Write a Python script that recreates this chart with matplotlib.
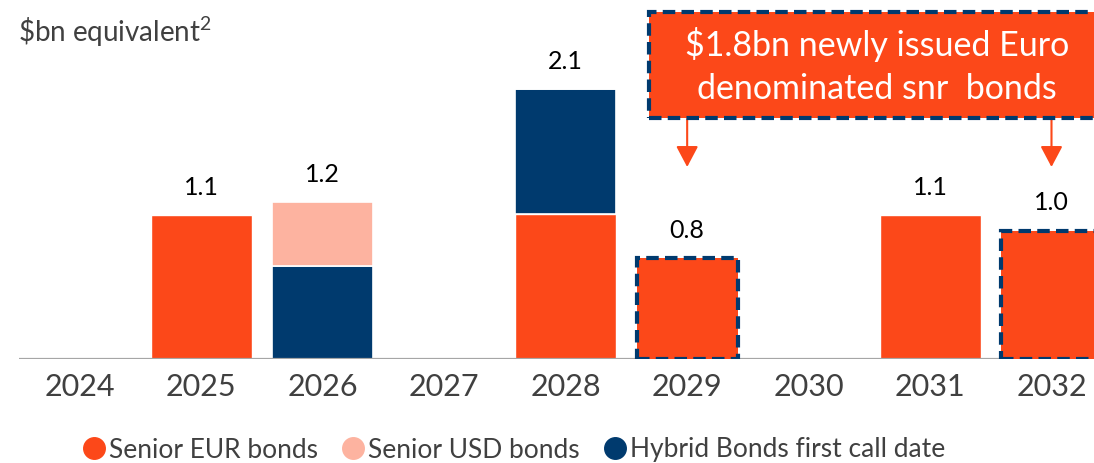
import matplotlib
matplotlib.use("Agg")
import matplotlib.pyplot as plt
from matplotlib.lines import Line2D
from matplotlib.patches import Rectangle
import numpy as np

plt.rcParams['font.family'] = ['Lato', 'DejaVu Sans']
plt.rcParams['mathtext.fontset'] = 'custom'
plt.rcParams['mathtext.rm'] = 'Lato'
plt.rcParams['mathtext.it'] = 'Lato'
plt.rcParams['mathtext.default'] = 'rm'

years = ['2024', '2025', '2026', '2027', '2028', '2029', '2030', '2031', '2032']
senior_eur = [0, 1.10, 0, 0, 1.11, 0.77, 0, 1.10, 0.98]
hybrid = [0, 0, 0.71, 0, 0.95, 0, 0, 0, 0]
senior_usd = [0, 0, 0.49, 0, 0, 0, 0, 0, 0]
total_labels = ['', '1.1', '1.2', '', '2.1', '0.8', '', '1.1', '1.0']
new_issue = [False, False, False, False, False, True, False, False, True]
series_names = ['Senior EUR bonds', 'Senior USD bonds', 'Hybrid Bonds first call date']
callout_text = "\\$1.8bn newly issued Euro\ndenominated snr  bonds"
unit_title = "\\$bn equivalent$^{2}$"

ORANGE = '#FC4819'
NAVY = '#003A6E'
PINK = '#FDB3A0'
GREY_TXT = '#404040'

W, H = 1094, 463
fig = plt.figure(figsize=(W / 100, H / 100), dpi=100)
ax = fig.add_axes([19 / W, (H - 359) / H, (W - 19) / W, 359 / H])

x = np.arange(len(years))
bw = 0.832
eur = np.array(senior_eur)
hyb = np.array(hybrid)
usd = np.array(senior_usd)

DASH = (0, (3.0, 1.5))
for i in range(len(years)):
    if eur[i] > 0:
        if new_issue[i]:
            ax.bar(x[i], eur[i], width=bw, color=ORANGE, edgecolor=NAVY,
                   linewidth=3.0, linestyle=DASH, zorder=5)
        else:
            ax.bar(x[i], eur[i], width=bw, color=ORANGE, edgecolor='white',
                   linewidth=1.0, zorder=3)
ax.bar(x, hyb, bottom=eur, width=bw, color=NAVY, edgecolor='white', linewidth=1.2, zorder=3)
ax.bar(x, usd, bottom=eur + hyb, width=bw, color=PINK, edgecolor='white', linewidth=1.2, zorder=3)

tops = eur + hyb + usd
for i, lab in enumerate(total_labels):
    if lab:
        ax.annotate(lab, xy=(x[i], tops[i]), xytext=(0, 20), textcoords='offset points',
                    ha='center', va='center', fontsize=18, color='black')

ax.axhline(0, color='#A6A6A6', linewidth=1.6, zorder=4)

ax.set_xlim(-0.502, 8.35)
ax.set_ylim(0, 359 / 131)
ax.set_xticks(x)
ax.set_xticklabels(years, fontsize=22, color=GREY_TXT)
ax.tick_params(axis='x', length=0, pad=10)
ax.set_yticks([])
for s in ax.spines.values():
    s.set_visible(False)

px = 1 / 131.0
def ydat(ypix):
    return (359 - ypix) * px
def xdat(xpix):
    return (xpix - 80) / 121.43

box = Rectangle((xdat(649), ydat(118)), xdat(1106) - xdat(649), ydat(12) - ydat(118),
                facecolor=ORANGE, edgecolor=NAVY, linewidth=3.0,
                linestyle=DASH, clip_on=False, zorder=5)
ax.add_patch(box)
ax.text(xdat(877), ydat(66), callout_text, ha='center', va='center', color='white',
        fontsize=24.5, linespacing=1.42, zorder=6, clip_on=False)

for i in range(len(years)):
    if new_issue[i]:
        ax.annotate('', xy=(x[i], ydat(167)), xytext=(x[i], ydat(119)),
                    arrowprops=dict(arrowstyle='-|>,head_length=0.85,head_width=0.45',
                                    color=ORANGE, lw=1.5, shrinkA=0, shrinkB=0,
                                    mutation_scale=15),
                    annotation_clip=False)

fig.text(18 / W, 1 - 42 / H, unit_title, fontsize=20, color=GREY_TXT, va='baseline', ha='left')

handles = [Line2D([], [], marker='o', linestyle='none', markersize=15.5, color=c)
           for c in (ORANGE, PINK, NAVY)]
fig.legend(handles, series_names, loc='center', bbox_to_anchor=(513 / W, 13 / H),
           ncol=3, frameon=False, fontsize=19, handletextpad=0.05, columnspacing=0.85,
           labelcolor=GREY_TXT, handlelength=1.0)

fig.savefig('out.png', dpi=100)
